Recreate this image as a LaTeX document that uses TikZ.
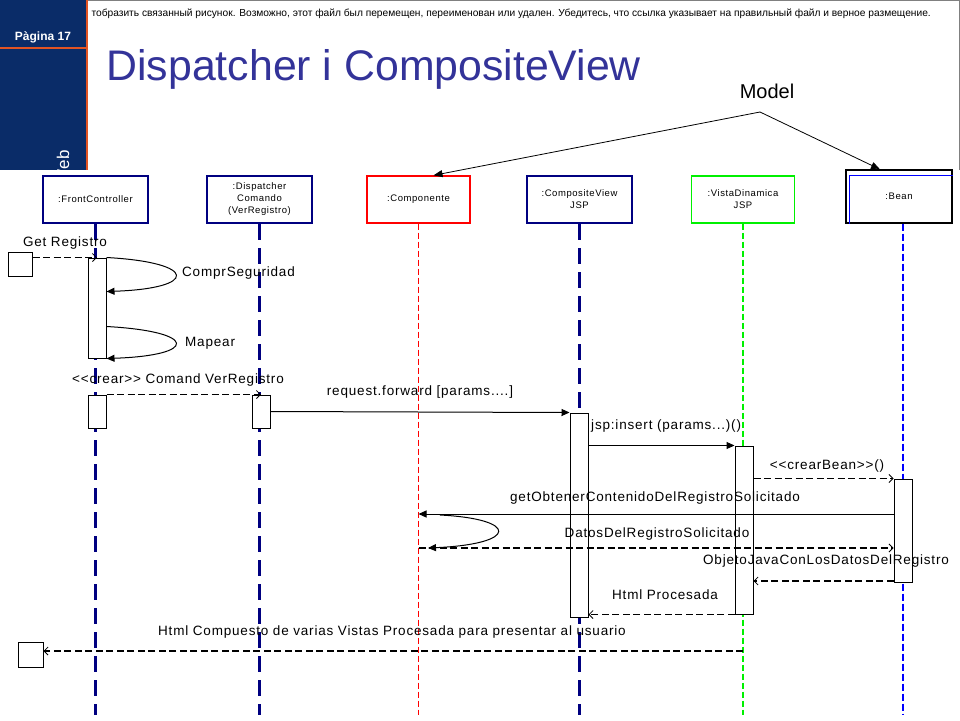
\documentclass[tikz,border=0pt]{standalone}
\usepackage{fontspec}
\setmainfont{Liberation Sans}
\newfontfamily\umlfont{Liberation Sans}[LetterSpace=6]
\usetikzlibrary{arrows.meta}
\definecolor{slideBlue}{RGB}{10,44,104}
\definecolor{titleBlue}{RGB}{51,51,153}
\definecolor{barOrange}{RGB}{226,84,36}
\definecolor{umlNavy}{RGB}{0,0,128}
\definecolor{umlGreen}{RGB}{0,240,0}
\tikzstyle{headNavy}=[shape = rectangle, draw = umlNavy, line width = 2.5pt, fill = white, minimum width = 105pt, minimum height = 47pt, inner sep = 1pt, align = center, font = \umlfont\fontsize{9.5}{12}\selectfont]
\tikzstyle{headThin}=[shape = rectangle, line width = 1.3pt, fill = white, minimum width = 103pt, minimum height = 47pt, inner sep = 1pt, align = center, font = \umlfont\fontsize{9.5}{12}\selectfont]
\tikzstyle{actBox}=[shape = rectangle, draw, fill = white, line width = 1pt, minimum width = 18pt, inner sep = 0pt]
\tikzstyle{actorBox}=[shape = rectangle, draw, fill = white, line width = 1pt, minimum size = 24pt, inner sep = 0pt]
\tikzstyle{msgLabel}=[inner sep = 1pt, font = \umlfont\fontsize{13.5}{15}\selectfont]

\begin{document}
\begin{tikzpicture}[x = 1pt, y = -1pt]
\tikzstyle{lifeNavy}=[draw = umlNavy, line width = 2.6pt, dash pattern = on 16pt off 8pt]
\tikzstyle{lifeRed}=[draw = red, line width = 1pt, dash pattern = on 6pt off 3pt]
\tikzstyle{lifeGreen}=[draw = umlGreen, line width = 2.2pt, dash pattern = on 6pt off 3pt]
\tikzstyle{lifeBlue}=[draw = blue, line width = 2.2pt, dash pattern = on 7pt off 3pt]
\tikzstyle{callArrow}=[line width = 1pt, -{Triangle[length = 8pt, width = 7pt]}]
\tikzstyle{retArrow}=[line width = 1.7pt, dash pattern = on 7pt off 3.5pt, -{Straight Barb[length = 4pt, width = 8pt, line width = 0.8pt]}]
\tikzstyle{modelArrow}=[line width = 0.8pt, -{Triangle[length = 9pt, width = 7pt]}]
\useasboundingbox (0,0) rectangle (960,720);
\fill[white] (0,0) rectangle (960,720);
\fill[slideBlue] (0,0) rectangle (86,170);
\draw[barOrange, line width = 2pt] (87,0) -- (87,170);
\draw[barOrange, line width = 1.5pt] (0,48) -- (86,48);
\draw[gray, line width = 1pt] (88,0.5) -- (959,0.5) -- (959,170);
\node[text = white, font = \bfseries\fontsize{12}{14}\selectfont] (page) at (43,37) {Pàgina 17};
\begin{scope}
\clip (0,0) rectangle (86,170);
\node[rotate = 90, anchor = east, text = white, font = \fontsize{17}{19}\selectfont] (web) at (63,147) {Web};
\end{scope}
\node[anchor = west, font = \fontsize{10.2}{12}\selectfont] (missing) at (88,14) {тобразить связанный рисунок. Возможно, этот файл был перемещен, переименован или удален. Убедитесь, что ссылка указывает на правильный файл и верное размещение.};
\node[anchor = base west, text = titleBlue, font = \fontsize{42.8}{48}\selectfont] (title) at (103,80) {Dispatcher i CompositeView};
\node[font = \fontsize{20}{22}\selectfont] (model) at (767,91) {Model};
\coordinate (modelTip) at (760,112);
\coordinate (bottom) at (0,715);

\node[headNavy] (fc) at (95.5,199.5) {:FrontController};
\node[headNavy] (disp) at (259.5,199.5) {:Dispatcher\\Comando\\(VerRegistro)};
\node[headThin, draw = red] (comp) at (418.5,199.5) {:Componente};
\node[headNavy] (cv) at (579.5,199.5) {:CompositeView\\JSP};
\node[headThin, draw = umlGreen] (vista) at (743,199.5) {:VistaDinamica\\JSP};
\node[headThin, draw = black, minimum width = 106pt, minimum height = 53pt] (bean) at (899,196.5) {:Bean};
\draw[blue, line width = 1.6pt] ([xshift = 4pt]bean.south west) |- ([yshift = -6pt]bean.north east);

\draw[lifeNavy] (fc.south) -- (fc.south |- bottom);
\draw[lifeNavy] (disp.south) -- (disp.south |- bottom);
\draw[lifeRed] (comp.south) -- (comp.south |- bottom);
\draw[lifeNavy] (cv.south) -- (cv.south |- bottom);
\draw[lifeGreen] (vista.south) -- (vista.south |- bottom);
\draw[lifeBlue] ([xshift = 4pt]bean.south) -- ([xshift = 4pt]bean.south |- bottom);

\draw[modelArrow] (modelTip) -- ([xshift = 15pt]comp.north);
\draw[modelArrow] (modelTip) -- ([xshift = -19pt]bean.north);

\node[actorBox] (act1) at (20,264.5) {};
\node[actorBox, minimum size = 25pt] (act2) at (30.5,654.5) {};
\node[actBox, minimum height = 100pt] (fcA1) at (97,308) {};
\node[actBox, minimum height = 33pt] (fcA2) at (97,411.5) {};
\node[actBox, minimum height = 33pt] (dA) at (261,411.5) {};
\node[actBox, minimum height = 204pt] (cvA) at (579,515) {};
\node[actBox, minimum height = 168pt] (vA) at (744,530) {};
\node[actBox, minimum height = 103pt] (bA) at (903,530.5) {};

\coordinate (rowGet) at (0,514);
\coordinate (rowDatos) at (0,548);
\coordinate (rowObj) at (0,581);
\coordinate (rowHtml) at (0,651);
\coordinate (loopS) at (440,515);
\coordinate (loopE) at (428,548);

\node[msgLabel] (lGet) at (65,243) {Get Registro};
\node[msgLabel, anchor = west] (lSeg) at (181,273) {ComprSeguridad};
\node[msgLabel, anchor = west] (lMap) at (184,343) {Mapear};
\node[msgLabel] (lCrear) at (178,380) {{<}{<}crear{>}{>} Comand VerRegistro};
\node[msgLabel] (lFwd) at (420,392) {request.forward [params....]};
\node[msgLabel, anchor = west] (lIns) at (590,426) {jsp:insert (params...)()};
\node[msgLabel] (lBean) at (827,466) {{<}{<}crearBean{>}{>}()};
\node[msgLabel] (lGetObt) at (655,498) {getObtenerContenidoDelRegistroSolicitado};
\node[msgLabel] (lDatos) at (657,534) {DatosDelRegistroSolicitado};
\node[msgLabel] (lObj) at (826,561) {ObjetoJavaConLosDatosDelRegistro};
\node[msgLabel] (lProc) at (665,595) {Html Procesada};
\node[msgLabel] (lComp) at (392,632) {Html Compuesto de varias Vistas Procesada para presentar al usuario};

\draw[retArrow] (act1.east |- fcA1.north) -- (fcA1.north);
\draw[callArrow] (fcA1.north east) .. controls +(92,5) and +(92,-3) .. ([yshift = -34pt]fcA1.north east);
\draw[callArrow] ([yshift = 32pt]fcA1.south east) .. controls +(92,5) and +(92,-3) .. (fcA1.south east);
\draw[retArrow] (fcA2.north east) -- (dA.north);
\draw[callArrow] (dA.east) -- (cvA.north west);
\draw[callArrow] (cvA.east |- vA.north) -- (vA.north west);
\draw[retArrow] (vA.east |- bA.north) -- (bA.north west);
\draw[callArrow] (bA.west |- rowGet) -- (comp |- rowGet);
\draw[callArrow] (loopS) .. controls +(79,4) and +(91,-4) .. (loopE);
\draw[retArrow] (comp |- rowDatos) -- (bA.west |- rowDatos);
\draw[retArrow] (bA.west |- rowObj) -- (vA.east |- rowObj);
\draw[retArrow] (vA.south west) -- (cvA.east |- vA.south);
\draw[retArrow] (vista |- rowHtml) -- (act2.east |- rowHtml);
\end{tikzpicture}
\end{document}
